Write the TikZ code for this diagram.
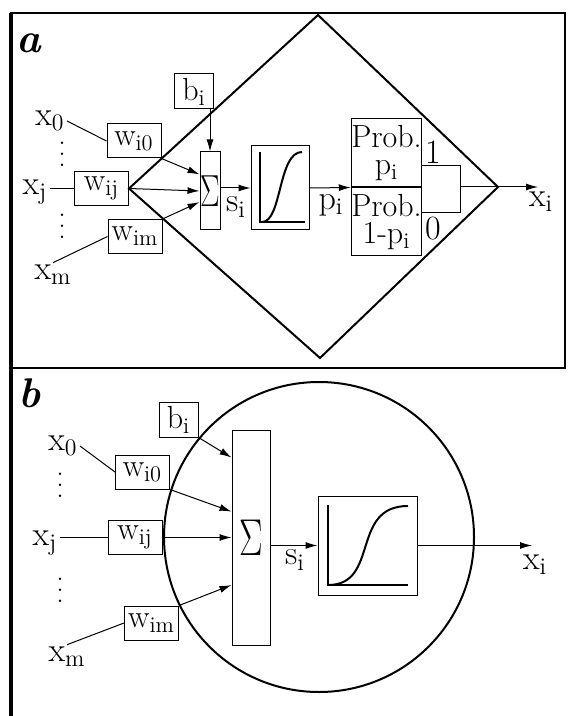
\documentclass[tikz,border=0pt]{standalone}
\usetikzlibrary{arrows.meta,positioning,calc}
\newcommand{\symsub}[2]{#1\textsubscript{#2}}
\newcommand{\tallvdots}{\vbox{\baselineskip5.5pt\lineskiplimit0pt\hbox{.}\hbox{.}\hbox{.}}}

\begin{document}
\begin{tikzpicture}[x=0.5pt, y=-0.5pt,
  lbl/.style={inner sep=1pt, font=\fontsize{17}{19}\selectfont},
  dots/.style={inner sep=0pt, font=\fontsize{15}{17}\selectfont},
  wbox/.style={draw, line width=0.5pt, inner sep=1.5pt, minimum width=27pt,
               minimum height=17pt, font=\fontsize{16}{18}\selectfont},
  bbox/.style={wbox, minimum width=19.5pt, minimum height=17.5pt},
  sumbox/.style={draw, line width=0.5pt, inner sep=0pt},
  sigbox/.style={draw, line width=0.5pt, inner sep=0pt},
  probbox/.style={draw, line width=0.5pt, inner sep=0pt, align=center,
                  minimum width=34.5pt, minimum height=34pt,
                  font=\fontsize{16}{13.5}\selectfont},
  cell/.style={draw, circle, line width=1pt, inner sep=0pt},
  tag/.style={inner sep=0pt, font=\huge\bfseries\itshape},
  wire/.style={line width=0.5pt},
  con/.style={-{Latex[length=6pt,width=3.5pt]}, line width=0.5pt},
  shell/.style={line width=1pt},
  curve/.style={line width=1pt}]
  \useasboundingbox (0,0) rectangle (570,716);
  % frame
  \draw[line width=1pt] (11,13) rectangle (565,368);
  \draw[line width=2pt] (11,13) -- (11,716);

  % panel a
  \node[tag] (taga) at (29,43) {a};
  \node[lbl] (x0a) at (50,121) {\symsub{x}{0}};
  \node[dots] (dotsa1) at (62,154) {\tallvdots};
  \node[lbl] (xja) at (35,192) {\symsub{x}{j}};
  \node[dots] (dotsa2) at (62,226) {\tallvdots};
  \node[lbl] (xma) at (53,275) {\symsub{x}{m}};
  \node[wbox] (wi0a) at (134,141) {\symsub{w}{i0}};
  \node[wbox] (wija) at (101.5,188.5) {\symsub{w}{ij}};
  \node[wbox] (wima) at (135,236.5) {\symsub{w}{im}};
  \node[bbox] (bia) at (194,91.5) {\symsub{b}{i}};
  \node[sumbox, minimum width=10pt, minimum height=39pt] (suma) at (210,191)
       {\scalebox{0.85}[1.3]{\LARGE$\Sigma$}};
  \node[sigbox, minimum width=29pt, minimum height=42pt] (sga) at (280,188) {};
  \node[probbox] (proba1) at (386.5,153) {Prob.\\ \symsub{p}{i}};
  \node[probbox, below=0pt of proba1] (proba0) {Prob.\\ 1-\symsub{p}{i}};
  \node[lbl] (sia) at (236,207) {\symsub{s}{i}};
  \node[lbl] (pia) at (331,205) {\symsub{p}{i}};
  \node[lbl] (onea) at (433,152) {1};
  \node[lbl] (zeroa) at (433,229) {0};
  \node[lbl] (xia) at (541,202) {\symsub{x}{i}};
  \coordinate (dt) at (318,15);
  \coordinate (dr) at (498,187);
  \coordinate (db) at (320,358);
  \coordinate (sw1) at (460,166);
  \coordinate (sw0) at (460,213);
  \coordinate (outa) at (538,187);

  \draw[shell] (wija.east) -- (dt) -- (dr) -- (db) -- cycle;
  \draw[wire] (x0a.east) -- (wi0a.west);
  \draw[wire] (xja.east |- wija.west) -- (wija.west);
  \draw[wire] (xma.north) -- (wima.west);
  \draw[con] (wi0a.south east) -- ($(suma.north west)!0.29!(suma.south west)$);
  \draw[con] (wija.east) -- (suma.west);
  \draw[con] (wima.north east) -- ($(suma.north west)!0.64!(suma.south west)$);
  \draw[con] (bia.south -| suma.north) -- (suma.north);
  \draw[con] (suma.east |- sga.west) -- (sga.west);
  \draw[con] (sga.east) -- (proba1.south west);
  \draw[wire] (proba1.east |- sw1) -- (sw1) -- (sw0) -- (proba0.east |- sw0);
  \draw[wire] (sw1 |- dr) -- (dr);
  \draw[con] (dr) -- (outa);
  % sigmoid a
  \draw[curve] (260,152) -- (260,222) -- (305,222);
  \draw[curve] (262,222) .. controls (282,222) and (278,152) .. (302,152);

  % panel b
  \node[tag] (tagb) at (30,393) {b};
  \node[lbl] (x0b) at (63,446) {\symsub{x}{0}};
  \node[dots] (dotsb1) at (60,485) {\tallvdots};
  \node[lbl] (xjb) at (45,543) {\symsub{x}{j}};
  \node[dots] (dotsb2) at (60,590) {\tallvdots};
  \node[lbl] (xmb) at (67,657) {\symsub{x}{m}};
  \node[wbox] (wi0b) at (142.5,472) {\symsub{w}{i0}};
  \node[wbox] (wijb) at (135,537.5) {\symsub{w}{ij}};
  \node[wbox] (wimb) at (151.5,623) {\symsub{w}{im}};
  \node[bbox] (bib) at (178.5,419.5) {\symsub{b}{i}};
  \node[cell, minimum size=155pt] (cellb) at (319,537) {};
  \node[sumbox, minimum width=19pt, minimum height=107.5pt] (sumb) at (251,537.5)
       {\scalebox{0.85}[1.25]{\huge$\Sigma$}};
  \node[sigbox, minimum size=49.5pt] (sgb) at (367.5,545.5) {};
  \node[lbl] (sib) at (295,560) {\symsub{s}{i}};
  \node[lbl] (xib) at (535,565) {\symsub{x}{i}};
  \coordinate (outb) at (532,545.5);

  \draw[wire] (x0b.east) -- (wi0b.west);
  \draw[wire] (xjb.east |- wijb.west) -- (wijb.west);
  \draw[wire] (xmb.north) -- (wimb.west);
  \draw[con] (bib.south east) -- ($(sumb.north west)!0.13!(sumb.south west)$);
  \draw[con] (wi0b.south east) -- ($(sumb.north west)!0.38!(sumb.south west)$);
  \draw[con] (wijb.east) -- (sumb.west);
  \draw[con] (wimb.north east) -- ($(sumb.north west)!0.72!(sumb.south west)$);
  \draw[con] (sumb.east |- sgb.west) -- (sgb.west);
  \draw[con] (sgb.east) -- (outb);
  % sigmoid b
  \draw[curve] (328,505) -- (328,585) -- (408,585);
  \draw[curve] (328,585) .. controls (380,585) and (350,506) .. (408,506);
\end{tikzpicture}
\end{document}
